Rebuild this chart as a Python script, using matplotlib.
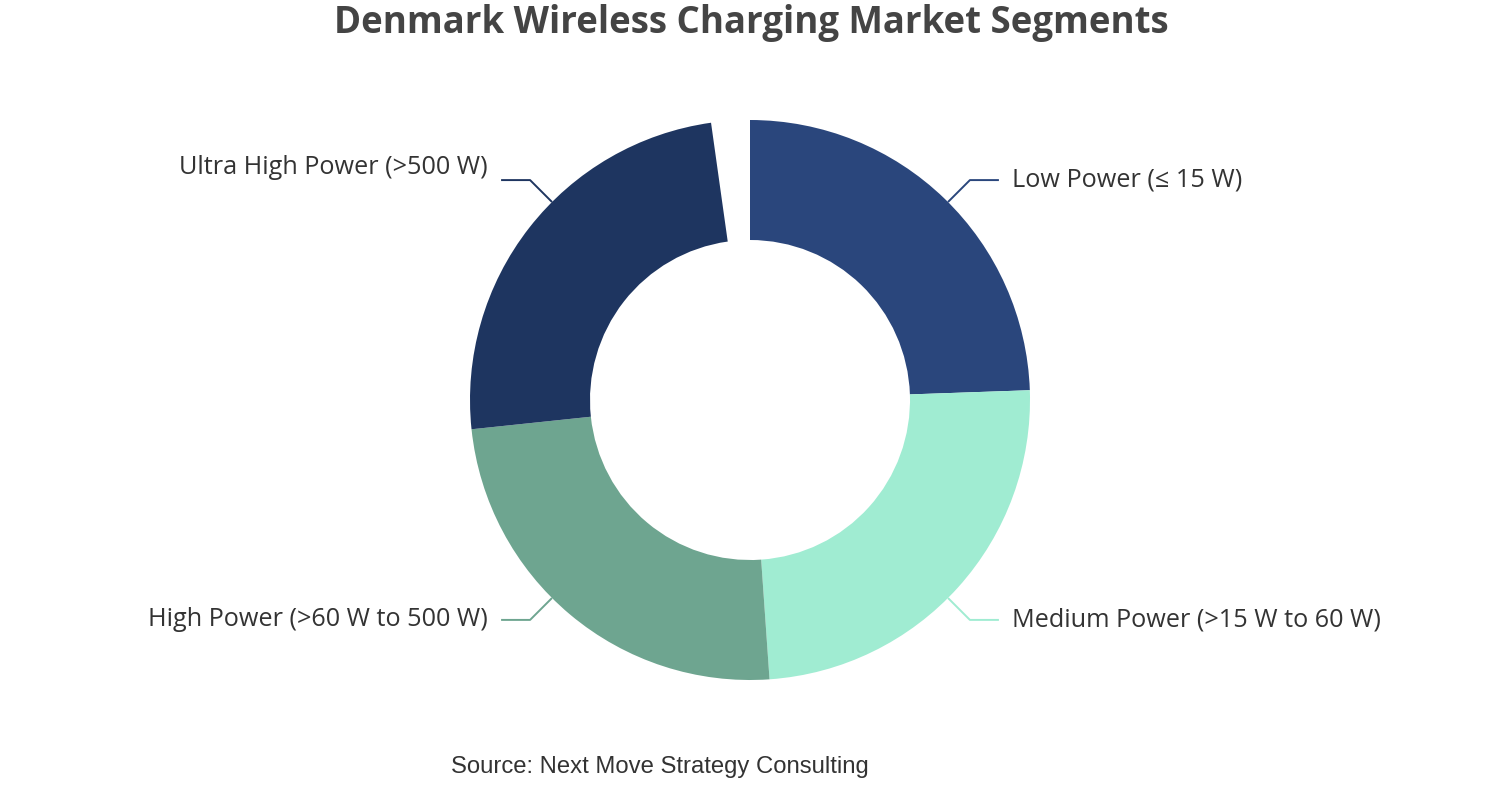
import numpy as np
import matplotlib
matplotlib.use("Agg")
import matplotlib.pyplot as plt

segments = ['Low Power (≤ 15 W)', 'Medium Power (>15 W to 60 W)',
            'High Power (>60 W to 500 W)', 'Ultra High Power (>500 W)']
shares = [25, 25, 25, 25]
colors = ['#2a467c', '#a0ecd2', '#6ea590', '#1e3560']

title = 'Denmark Wireless Charging Market Segments'
source = 'Source: Next Move Strategy Consulting'

W, H = 1502, 800
cx, cy = 750, 400          # centre in pixels (y from bottom)
r_out, r_in = 280, 160
sweep = 352 / 360          # the ring is drawn slightly short of a full turn
label_nudge = [0, 0, 0, 13]  # small vertical text shifts, px

fig = plt.figure(figsize=(W / 100, H / 100), dpi=100)
ax = fig.add_axes([0, 0, 1, 1])
ax.axis('off')

fracs = np.array(shares, dtype=float) / sum(shares) * sweep
ax.pie(fracs, colors=colors, startangle=90, counterclock=False, normalize=False,
       radius=r_out, center=(cx, cy),
       wedgeprops=dict(width=r_out - r_in, edgecolor='none', linewidth=0))
ax.set_xlim(0, W)
ax.set_ylim(0, H)
ax.set_aspect('equal')

label_font = ['Open Sans', 'DejaVu Sans']
total = sum(shares)
start = 0.0
for name, val, col, dy in zip(segments, shares, colors, label_nudge):
    mid = np.radians(start + val / total * 180)   # degrees clockwise from 12 o'clock
    start += val / total * 360
    sx, sy = np.sin(mid), np.cos(mid)
    p0 = (cx + r_out * sx, cy + r_out * sy)
    p1 = (cx + (r_out + 31) * sx, cy + (r_out + 31) * sy)
    side = 1 if sx >= 0 else -1
    p2 = (p1[0] + side * 29, p1[1])
    ax.plot([p0[0], p1[0], p2[0]], [p0[1], p1[1], p2[1]], color=col, lw=1.4,
            solid_capstyle='butt')
    ax.text(p2[0] + side * 13, p2[1] + dy, name, ha='left' if side > 0 else 'right',
            va='center', fontsize=18.2, color='#333333', family=label_font)

fig.text(0.5, 1 - 23 / H, title, ha='center', va='center', fontsize=26.4,
         fontweight='bold', color='#444444', family=label_font)
fig.text(660 / W, 1 - 767 / H, source, ha='center', va='center', fontsize=17.2,
         color='#333333', family=['Liberation Sans', 'DejaVu Sans'])

fig.savefig('out.png', dpi=100, facecolor='white')
